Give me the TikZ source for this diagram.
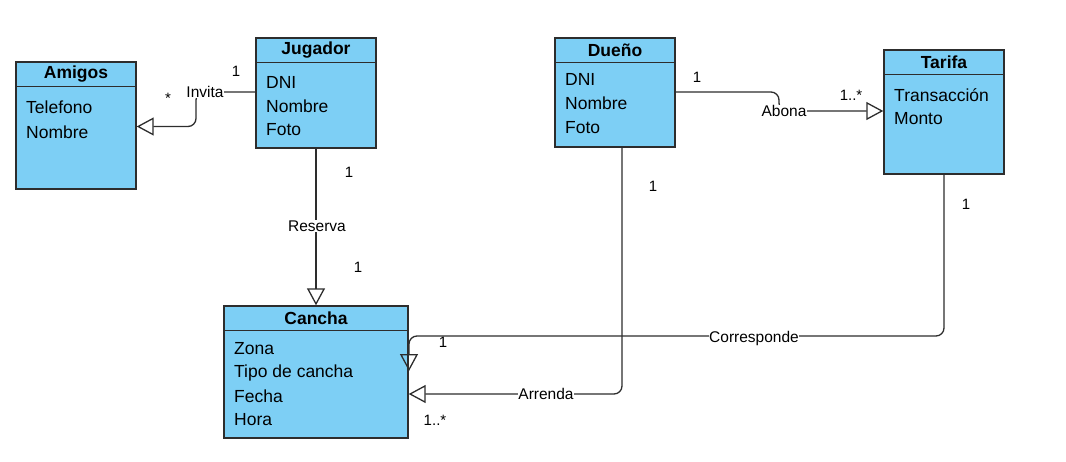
\documentclass[tikz,border=0pt]{standalone}
\usepackage{fontspec}
\setmainfont{Liberation Sans}
\usetikzlibrary{arrows.meta}
\definecolor{clsfill}{RGB}{125,207,245}
\definecolor{clsline}{RGB}{45,45,45}
\tikzset{
  cls/.style={draw=clsline, fill=clsfill, line width=1.4pt, inner sep=0pt},
  hdr/.style={font=\fontsize{17.5}{20}\selectfont\bfseries, inner sep=0pt},
  attr/.style={font=\fontsize{17.5}{20}\selectfont, anchor=west, inner sep=0pt},
  conn/.style={draw=clsline, line width=1.3pt, rounded corners=8pt},
  harrow/.style={-{Triangle[open,length=17pt,width=18pt,line width=1.3pt]}},
  lbl/.style={font=\fontsize{15.5}{18}\selectfont, fill=white, inner sep=0.5pt},
  mult/.style={font=\fontsize{15}{18}\selectfont, inner sep=0pt},
}
\begin{document}
\begin{tikzpicture}[x=1pt,y=-1pt]
\useasboundingbox (0,0) rectangle (1066,461);
% classes
\node[cls, minimum width=120pt, minimum height=127pt] (ami) at (76,125.5) {};
\node[cls, minimum width=120pt, minimum height=110pt] (jug) at (316,93) {};
\node[cls, minimum width=120pt, minimum height=109pt] (due) at (615,92.5) {};
\node[cls, minimum width=120pt, minimum height=124pt] (tar) at (944,112) {};
\node[cls, minimum width=184pt, minimum height=132pt] (can) at (316,372) {};
\foreach \n in {ami,jug,due,tar,can}{
  \draw[draw=clsline, line width=1.4pt] ([yshift=-25pt]\n.north west) -- ([yshift=-25pt]\n.north east);
}
% headers
\node[hdr] (amih) at (76,74.5) {Amigos};
\node[hdr] (jugh) at (316,50.5) {Jugador};
\node[hdr] (dueh) at (615,50.5) {Dueño};
\node[hdr] (tarh) at (944,62.5) {Tarifa};
\node[hdr] (canh) at (316,318.5) {Cancha};
% attributes
\node[attr] (a1) at (26,107) {Telefono};
\node[attr] (a2) at (26,132) {Nombre};
\node[attr] (j1) at (266,82) {DNI};
\node[attr] (j2) at (266,106) {Nombre};
\node[attr] (j3) at (266,130) {Foto};
\node[attr] (d1) at (565,79) {DNI};
\node[attr] (d2) at (565,103) {Nombre};
\node[attr] (d3) at (565,128) {Foto};
\node[attr] (t1) at (894,95) {Transacción};
\node[attr] (t2) at (894,119) {Monto};
\node[attr] (c1) at (234,349) {Zona};
\node[attr] (c2) at (234,373) {Tipo de cancha};
\node[attr] (c3) at (234,396) {Fecha};
\node[attr] (c4) at (234,420) {Hora};
% bend coordinates
\coordinate (i1) at (196,92);
\coordinate (i2) at (196,126.5);
\coordinate (b1) at (779,92);
\coordinate (b2) at (779,111);
\coordinate (r0) at (622,147);
\coordinate (r1) at (622,394);
\coordinate (k1) at (944,336);
\coordinate (k2) at (409,336);
\coordinate (k3) at (409,371);
% connectors
\draw[conn, harrow] (jug.west |- i1) -- (i1) -- (i2) -- (ami.east |- i2);
\draw[conn, harrow] (jug.south) -- (can.north);
\draw[conn, harrow] (due.east |- b1) -- (b1) -- (b2) -- (tar.west |- b2);
\draw[conn, harrow] (r0) -- (r1) -- (can.east |- r1);
\draw[conn, harrow] (tar.south) -- (k1) -- (k2) -- (k3);
% labels
\node[lbl] (linv) at (205,92) {Invita};
\node[lbl] (lres) at (317,226) {Reserva};
\node[lbl] (labo) at (784,111) {Abona};
\node[lbl] (larr) at (546,394) {Arrenda};
\node[lbl] (lcor) at (754,338) {Corresponde};
% multiplicities
\node[mult] (m1) at (236,71) {1};
\node[mult] (m2) at (168,98) {*};
\node[mult] (m3) at (349,172) {1};
\node[mult] (m4) at (358,267) {1};
\node[mult] (m5) at (697,77) {1};
\node[mult] (m6) at (851,95) {1..*};
\node[mult] (m7) at (653,186) {1};
\node[mult] (m8) at (435,420) {1..*};
\node[mult] (m9) at (966,204) {1};
\node[mult] (m10) at (443,342) {1};
\end{tikzpicture}
\end{document}
